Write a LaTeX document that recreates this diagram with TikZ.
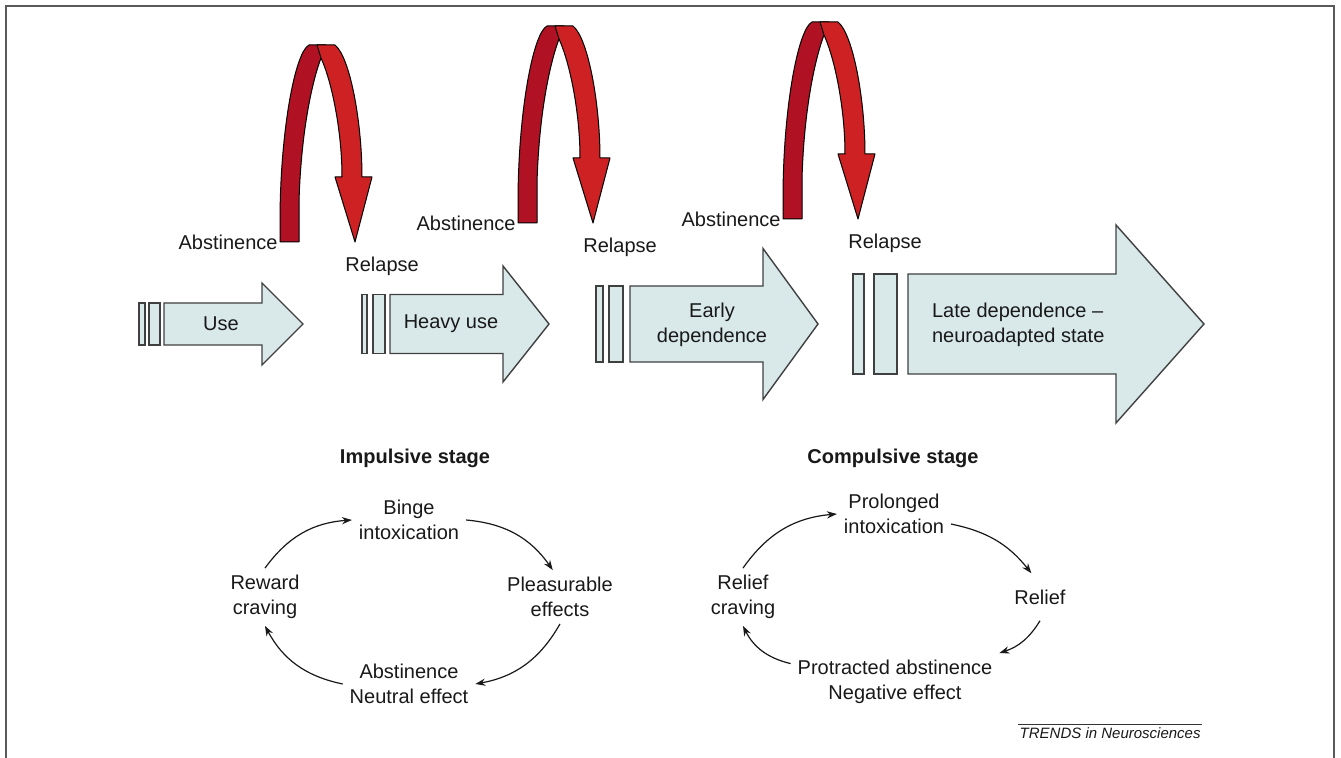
\documentclass[tikz,border=0pt]{standalone}
\usepackage{fontspec}
\setmainfont{Liberation Sans}
\usetikzlibrary{arrows.meta}
\definecolor{stagefill}{RGB}{217,233,234}
\definecolor{bandback}{RGB}{176,18,36}
\definecolor{bandfront}{RGB}{205,33,35}
\definecolor{framegray}{RGB}{90,90,90}

\begin{document}
\begin{tikzpicture}[x=0.5pt,y=-0.5pt]
	\tikzstyle{stage}=[draw=black!75,fill=stagefill,line width=0.7pt]
	\tikzstyle{band}=[draw=black,line width=0.5pt,line join=round]
	\tikzstyle{txt}=[font=\fontsize{10}{12.5}\selectfont,align=center,text=black!90]
	\tikzstyle{head}=[font=\fontsize{10}{12.5}\selectfont\bfseries,text=black!90]
	\tikzstyle{cycarrow}=[-{Stealth[length=5pt,width=3.6pt]},line width=0.6pt,black!90]

	\useasboundingbox (0,0) rectangle (1341,758);
	\draw[framegray,line width=1pt] (6,758) -- (6,6) -- (1334,6) -- (1334,758);

	% stage arrows: bars, body, head
	\foreach \ba/\bb/\bc/\bd/\xs/\xh/\hb/\hh/\xt in
		{139/145/149/160/164/262/21/41/303,
		 362/367/373/385/390/503/29.5/58/549,
		 596/603/609/623/630/763/38/75.5/818,
		 853/864/874/897/908/1116/50/99/1204}
	{
		\draw[stage] (\ba,324-\hb) rectangle (\bb,324+\hb);
		\draw[stage] (\bc,324-\hb) rectangle (\bd,324+\hb);
		\draw[stage] (\xs,324-\hb) -- (\xh,324-\hb) -- (\xh,324-\hh) -- (\xt,324)
			-- (\xh,324+\hh) -- (\xh,324+\hb) -- (\xs,324+\hb) -- cycle;
	}
	\node[txt] (use) at (221,324) {Use};
	\node[txt] (heavy) at (451,324) {Heavy use};
	\node[txt] (early) at (712,325) {Early\\dependence};
	\node[txt,align=left,anchor=west] (late) at (925,325) {Late dependence --\\neuroadapted state};

	% relapse loops
	\foreach \L/\B [count=\i] in {280/242, 518/223, 783/219}
	{
		\begin{scope}[shift={(\L,\B)}]
			\filldraw[band,fill=bandback] (0,0) -- (0,-20) .. controls (0,-110) and (15,-190) .. (29,-197)
				-- (46,-197) -- (41,-184) .. controls (32,-160) and (21,-110) .. (19,-40) -- (19,0) -- cycle;
			\filldraw[band,fill=bandfront] (37,-197) -- (55,-197) .. controls (70,-185) and (82,-120) .. (82,-65)
				-- (92,-65) -- (75,0) -- (55,-65) -- (62,-65) .. controls (62,-110) and (52,-160) .. (41,-184) -- cycle;
		\end{scope}
		\node[txt,anchor=east,inner sep=1pt] (abst\i) at (\L,\B) {Abstinence};
		\node[txt,anchor=west,inner sep=1pt] (relapse\i) at (\L+63,\B+24) {Relapse};
	}

	% impulsive cycle
	\node[head] (impulsive) at (415,458) {Impulsive stage};
	\node[txt] (binge) at (409,520) {Binge\\intoxication};
	\node[txt] (pleasure) at (560,597) {Pleasurable\\effects};
	\node[txt] (neutral) at (409,684) {Abstinence\\Neutral effect};
	\node[txt] (reward) at (265,597) {Reward\\craving};
	\draw[cycarrow] (reward.north) to[bend left=25] (binge.west);
	\draw[cycarrow] (binge.east) to[bend left=25] (pleasure.105);
	\draw[cycarrow] (pleasure.south) to[bend left=25] (neutral.east);
	\draw[cycarrow] (neutral.west) to[bend left=25] (reward.south);

	% compulsive cycle
	\node[head] (compulsive) at (893,458) {Compulsive stage};
	\node[txt] (prolonged) at (894,514) {Prolonged\\intoxication};
	\node[txt,inner ysep=8pt] (relief) at (1040,597) {Relief};
	\node[txt] (protracted) at (895,682) {Protracted abstinence\\Negative effect};
	\node[txt] (reliefcrav) at (743,597) {Relief\\craving};
	\draw[cycarrow] (reliefcrav.north) to[bend left=25] (prolonged.west);
	\draw[cycarrow] (prolonged.-10) to[bend left=20] (relief.110);
	\draw[cycarrow] (relief.south) to[bend left=20] (protracted.north east);
	\draw[cycarrow] (protracted.170) to[bend left=25] (reliefcrav.south);

	\node[anchor=north east,inner xsep=0.5pt,inner ysep=1.5pt,font=\fontsize{7.5}{9}\selectfont\itshape,text=black!90] (trends) at (1202,724) {TRENDS in Neurosciences};
	\draw[line width=0.4pt,black!80] (trends.north west) -- (trends.north east);
\end{tikzpicture}
\end{document}
